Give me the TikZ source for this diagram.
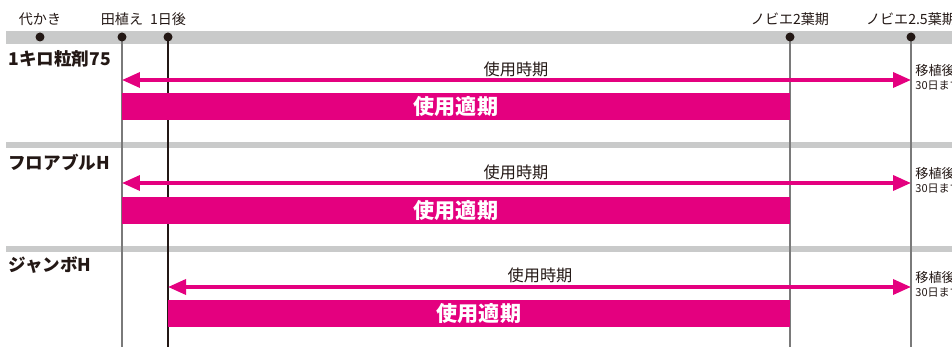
\documentclass[tikz,border=0pt]{standalone}
\usepackage{fontspec}
\newfontfamily\jp{Noto Sans CJK JP}
\usetikzlibrary{arrows.meta,backgrounds}
\definecolor{mag}{HTML}{E4007F}
\definecolor{band}{HTML}{C9CACA}
\definecolor{rule}{HTML}{7A7A7A}
\definecolor{ink}{HTML}{231815}
\tikzset{
  stage/.style={font=\jp\fontsize{8}{9}\selectfont, text=ink, inner sep=0pt},
  dot/.style={circle, fill=ink, inner sep=0pt, minimum size=0.18cm},
  vline/.style={draw=rule, line width=0.65pt},
  rowname/.style={font=\jp\bfseries\fontsize{10}{11}\selectfont, text=ink, anchor=west, inner sep=0pt},
  period/.style={font=\jp\fontsize{9.2}{10}\selectfont, text=ink, inner sep=0pt},
  span/.style={mag, line width=2pt, {Triangle[length=0.36cm,width=0.3cm]}-{Triangle[length=0.36cm,width=0.3cm]}},
  bar/.style={fill=mag, text=white, font=\jp\bfseries\fontsize{12}{13}\selectfont, minimum height=0.54cm, inner sep=0pt, outer sep=0pt, anchor=north west},
  note/.style={font=\jp\fontsize{7.5}{8}\selectfont, text=ink, anchor=west, inner sep=0pt},
  notesmall/.style={font=\jp\fontsize{6.3}{7}\selectfont, text=ink, anchor=west, inner sep=0pt}
}
\begin{document}
\begin{tikzpicture}[x=0.02cm, y=-0.02cm]
\useasboundingbox (0,0) rectangle (952,347);
\clip (0,0) rectangle (952,347);
% stages
\node [stage] (t-dk) at (40,19) {代かき};
\node [stage] (t-tu) at (122,19) {田植え};
\node [stage] (t-d1) at (168,19) {1日後};
\node [stage] (t-n2) at (790,19) {ノビエ2葉期};
\node [stage] (t-n25) at (911,19) {ノビエ2.5葉期};
\node [dot] (dk) at (40,37) {};
\node [dot] (tu) at (122,37) {};
\node [dot] (d1) at (168,37) {};
\node [dot] (n2) at (790,37) {};
\node [dot] (n25) at (911,37) {};
\coordinate (bot) at (0,347);
\begin{scope}[on background layer]
% bands
\fill [band] (6,31) rectangle (952,44);
\fill [band] (6,142) rectangle (952,148);
\fill [band] (6,246) rectangle (952,252);
\draw [vline] (tu.center) -- (tu |- bot);
\draw [vline, draw=ink] (d1.center) -- (d1 |- bot);
\draw [vline] (n2.center) -- (n2 |- bot);
\draw [vline] (n25.center) -- (n25 |- bot);
\end{scope}
% rows
\node [rowname] (r1) at (8,59) {1キロ粒剤75};
\node [rowname] (r2) at (8,162) {フロアブルH};
\node [rowname] (r3) at (8,265) {ジャンボH};
\coordinate (s1) at (122,80);
\coordinate (e1) at (911,80);
\coordinate (s2) at (122,183);
\coordinate (e2) at (911,183);
\coordinate (s3) at (168,287);
\coordinate (e3) at (911,287);
\draw [span] (s1) -- (e1);
\draw [span] (s2) -- (e2);
\draw [span] (s3) -- (e3);
\node [period] (p1) at (516,69) {使用時期};
\node [period] (p2) at (516,172) {使用時期};
\node [period] (p3) at (540,275) {使用時期};
\node [bar, minimum width=13.36cm] (b1) at (122,93) {使用適期};
\node [bar, minimum width=13.36cm] (b2) at (122,197) {使用適期};
\node [bar, minimum width=12.44cm] (b3) at (168,300) {使用適期};
% right notes
\node [note] (m1) at (915,71) {移植後};
\node [notesmall] (q1) at (915,85) {30日まで};
\node [note] (m2) at (915,174) {移植後};
\node [notesmall] (q2) at (915,188) {30日まで};
\node [note] (m3) at (915,278) {移植後};
\node [notesmall] (q3) at (915,292) {30日まで};
\end{tikzpicture}
\end{document}
